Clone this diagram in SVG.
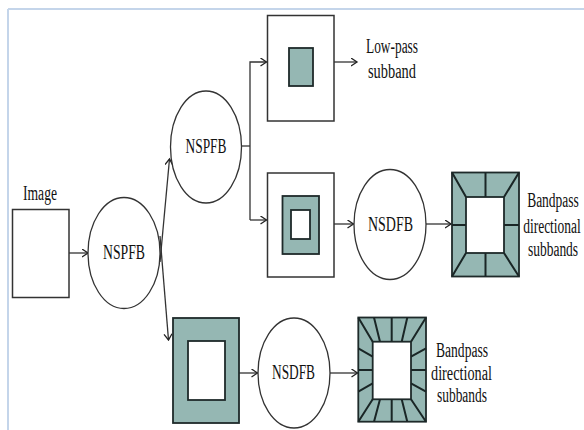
<svg xmlns="http://www.w3.org/2000/svg" width="584" height="430" viewBox="0 0 584 430">
<defs>
<marker id="arr" markerWidth="8" markerHeight="10" refX="6.5" refY="4" orient="auto" markerUnits="userSpaceOnUse">
<path d="M0.5,0 L6.5,4 L0.5,8" fill="none" stroke="#222" stroke-width="1.3"/>
</marker>
<style>
.ln{fill:none;stroke:#333;stroke-width:1.3}
.con{fill:none;stroke:#333;stroke-width:1.3;marker-end:url(#arr)}
.box{fill:#fff;stroke:#333;stroke-width:1.5}
.fill{fill:#95b7b3;stroke:#1e2a2a;stroke-width:1.8}
.hole{fill:#fff;stroke:#1e2a2a;stroke-width:1.8}
.div{stroke:#1a2626;stroke-width:2;fill:none}
.el{fill:#fff;stroke:#333;stroke-width:1.3}
text{font-family:"Liberation Serif","Times New Roman",serif;font-size:20px;fill:#111}
.nar{font-size:13.5px}
</style>
</defs>
<rect width="584" height="430" fill="#fff"/>
<g id="frame">
<line x1="8" y1="9" x2="584" y2="9" stroke="#c4d5ea" stroke-width="2"/>
<line x1="8" y1="9" x2="8" y2="430" stroke="#c4d5ea" stroke-width="2"/>
</g>
<g id="connectors">
<line class="con" x1="69" y1="253" x2="88" y2="253"/>
<line class="con" x1="160" y1="262" x2="169.5" y2="159"/>
<line class="con" x1="160" y1="236" x2="168.5" y2="340"/>
<polyline class="ln" points="241,146 250,146"/>
<polyline class="con" points="250,220 250,62 266.5,62"/>
<line class="con" x1="250" y1="220" x2="266.5" y2="220"/>
<line class="con" x1="334" y1="62" x2="357" y2="62"/>
<line class="con" x1="334" y1="224" x2="353.5" y2="224"/>
<line class="con" x1="426" y1="224" x2="451" y2="224"/>
<line class="con" x1="239" y1="373" x2="257.5" y2="373"/>
<line class="con" x1="330" y1="373" x2="357.5" y2="373"/>
</g>
<g id="image">
<rect class="box" x="12.5" y="209.5" width="56.5" height="88"/>
<text x="40" y="200" text-anchor="middle" textLength="34" lengthAdjust="spacingAndGlyphs">Image</text>
</g>
<g id="nspfb1">
<ellipse class="el" cx="124" cy="253" rx="36" ry="55.5"/>
<text x="124" y="258.5" text-anchor="middle" textLength="42" lengthAdjust="spacingAndGlyphs">NSPFB</text>
</g>
<g id="nspfb2">
<ellipse class="el" cx="206" cy="147" rx="35.5" ry="56"/>
<text x="206" y="152.5" text-anchor="middle" textLength="41" lengthAdjust="spacingAndGlyphs">NSPFB</text>
</g>
<g id="lowpass">
<rect class="box" x="267.5" y="15.5" width="66.5" height="105.5"/>
<rect class="fill" x="289" y="48" width="24" height="38"/>
</g>
<g id="lowpass-label">
<text x="366" y="53" textLength="52" lengthAdjust="spacingAndGlyphs">Low-pass</text>
<text x="368" y="78" textLength="48" lengthAdjust="spacingAndGlyphs">subband</text>
</g>
<g id="bandpass1">
<rect class="box" x="267.5" y="173" width="66.5" height="104"/>
<rect class="fill" x="282.5" y="196" width="36.5" height="58"/>
<rect class="hole" x="291" y="210" width="19" height="29"/>
</g>
<g id="nsdfb1">
<ellipse class="el" cx="390" cy="224.5" rx="36" ry="55"/>
<text x="390.5" y="230.5" text-anchor="middle" textLength="45" lengthAdjust="spacingAndGlyphs">NSDFB</text>
</g>
<g id="dir1">
<rect class="fill" x="452" y="172.5" width="67" height="104"/>
<rect class="hole" x="466" y="197" width="38" height="56"/>
<path class="div" d="M452,172.5 L466,197 M519,172.5 L504,197 M452,276.5 L466,253 M519,276.5 L504,253 M485.5,172.5 V197 M485.5,253 V276.5 M452,225 H466 M504,225 H519"/>
<text class="nar" transform="translate(553,207) scale(1,1.48)" text-anchor="middle">Bandpass</text>
<text class="nar" transform="translate(552,233) scale(1,1.48)" text-anchor="middle">directional</text>
<text class="nar" transform="translate(553,256) scale(1,1.48)" text-anchor="middle">subbands</text>
</g>
<g id="bandpass2">
<rect class="fill" x="173" y="318" width="66" height="105"/>
<rect class="hole" x="188" y="341" width="37" height="59"/>
</g>
<g id="nsdfb2">
<ellipse class="el" cx="294" cy="373" rx="36" ry="55"/>
<text x="293.5" y="378.5" text-anchor="middle" textLength="43" lengthAdjust="spacingAndGlyphs">NSDFB</text>
</g>
<g id="dir2">
<rect class="fill" x="358.3" y="317.5" width="67.7" height="104.2"/>
<rect class="hole" x="372.7" y="341.7" width="38.3" height="57.6"/>
<path class="div" d="M358.3,317.5 L372.7,341.7 M426,317.5 L411,341.7 M358.3,421.7 L372.7,399.3 M426,421.7 L411,399.3 M374,317.5 L380,341.7 M391.7,317.5 V341.7 M407.3,317.5 L401.7,341.7 M374,421.7 L380,399.3 M391.7,421.7 V399.3 M407.3,421.7 L401.7,399.3 M358.3,348.3 L372.7,356.7 M358.3,370 H372.7 M358.3,391.7 L372.7,383.3 M426,348.3 L411,356.7 M426,370 H411 M426,391.7 L411,383.3"/>
<text x="462" y="357" text-anchor="middle" textLength="52" lengthAdjust="spacingAndGlyphs">Bandpass</text>
<text x="461.5" y="380" text-anchor="middle" textLength="61" lengthAdjust="spacingAndGlyphs">directional</text>
<text x="462" y="402" text-anchor="middle" textLength="50" lengthAdjust="spacingAndGlyphs">subbands</text>
</g>
</svg>
